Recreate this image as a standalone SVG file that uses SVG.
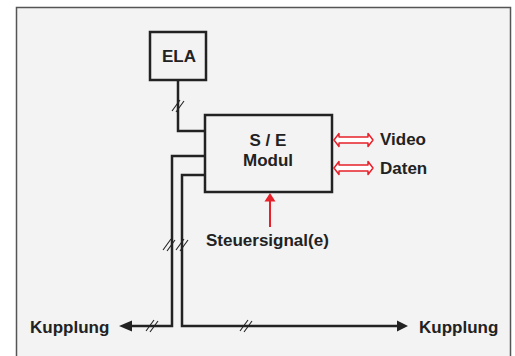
<svg xmlns="http://www.w3.org/2000/svg" width="515" height="356" viewBox="0 0 515 356">
<style>
.frame{fill:#f3f3f3;stroke:#555;stroke-width:1.5}
.box{fill:#f3f3f3;stroke:#222;stroke-width:2.5}
.ln{fill:none;stroke:#222;stroke-width:2.5}
.sl{stroke:#222;stroke-width:1.1}
.ah{fill:#222}
.t{font-family:"Liberation Sans",Arial,sans-serif;font-weight:bold;font-size:17px;fill:#222}
.red{fill:#fff;stroke:#e8202a;stroke-width:1.5;stroke-linejoin:round}
</style>
<defs>
<g id="sl2"><line class="sl" x1="-6" y1="5" x2="2" y2="-6"/><line class="sl" x1="-2" y1="6" x2="6" y2="-5"/></g>
</defs>
<rect class="frame" x="16.5" y="7.5" width="494" height="360"/>
<g id="connectors">
<path class="ln" d="M178,80 V131 H205"/>
<use href="#sl2" x="178" y="106"/>
<path class="ln" d="M205,156 H172 V326 H130"/>
<path class="ah" d="M119,326 L132,320.5 L132,331.5 Z"/>
<use href="#sl2" x="169" y="245"/>
<use href="#sl2" x="152" y="326"/>
<path class="ln" d="M205,175 H182 V326 H398"/>
<path class="ah" d="M408,326 L397,320.5 L397,331.5 Z"/>
<use href="#sl2" x="182" y="245"/>
<use href="#sl2" x="246" y="326"/>
<line x1="270" y1="227" x2="270" y2="200" stroke="#e8202a" stroke-width="2"/>
<path d="M270,193 L275.5,201.5 L264.5,201.5 Z" fill="#e8202a"/>
<path class="red" d="M334,140 L339,133.5 L339,137 L368,137 L368,133.5 L373,140 L368,146.5 L368,143 L339,143 L339,146.5 Z"/>
<path class="red" d="M334,168 L339,161.5 L339,165 L368,165 L368,161.5 L373,168 L368,174.5 L368,171 L339,171 L339,174.5 Z"/>
</g>
<g id="ela">
<rect class="box" x="150" y="32" width="56" height="48"/>
<text class="t" x="179" y="62" text-anchor="middle">ELA</text>
</g>
<g id="se">
<rect class="box" x="205" y="115" width="127" height="77"/>
<text class="t" x="268" y="146" text-anchor="middle">S / E</text>
<text class="t" x="268" y="166" text-anchor="middle">Modul</text>
</g>
<g id="labels">
<text class="t" x="380" y="145">Video</text>
<text class="t" x="380" y="174">Daten</text>
<text class="t" x="206" y="246">Steuersignal(e)</text>
<text class="t" x="30" y="333">Kupplung</text>
<text class="t" x="419" y="333">Kupplung</text>
</g>
</svg>
